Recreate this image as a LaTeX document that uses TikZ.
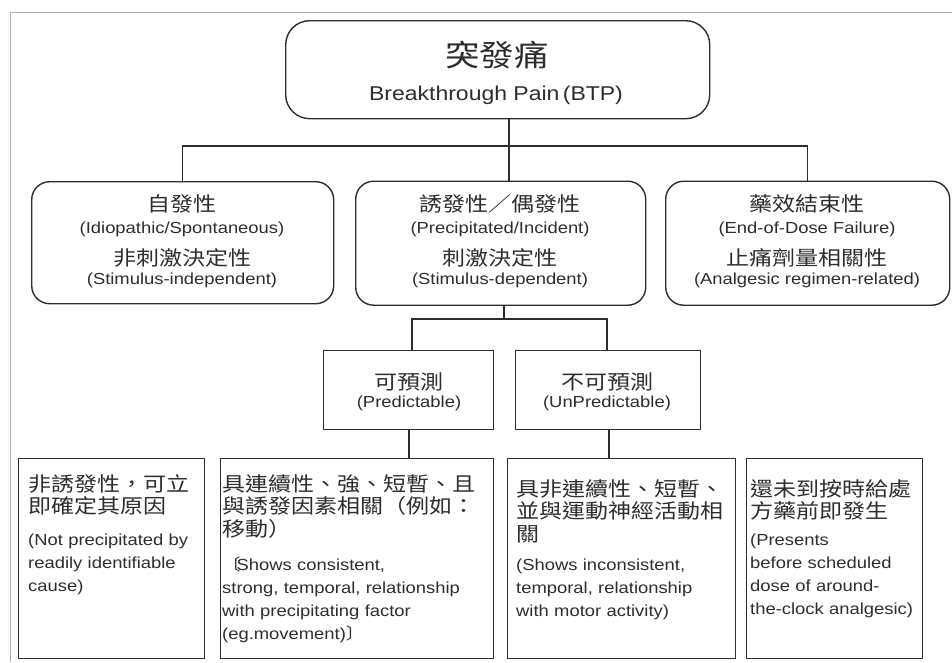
\documentclass[tikz,border=0pt]{standalone}
\usepackage{fontspec}
\setmainfont{Liberation Sans}[FakeStretch=1.15]
\newfontfamily\cjk{Noto Sans CJK TC}[FakeStretch=1.15]
\newcommand{\mylbk}{{\cjk 〔}}
\newcommand{\myrbk}{{\cjk 〕}}
\definecolor{ink}{RGB}{45,45,45}
\definecolor{frame}{RGB}{175,175,175}
\tikzset{
  ln/.style={draw=ink, line width=1.4pt},
  rbox/.style={draw=ink, line width=1.4pt, rounded corners=18pt, anchor=north west, inner sep=0pt},
  sbox/.style={draw=ink, line width=1.4pt, anchor=north west, inner sep=0pt},
  zh/.style={font=\cjk\fontsize{20}{22.5}\selectfont, text=ink, inner sep=0pt, anchor=base},
  zhbig/.style={font=\cjk\fontsize{30}{32}\selectfont, text=ink, inner sep=0pt, anchor=base},
  en/.style={font=\fontsize{16}{23}\selectfont, text=ink, inner sep=0pt, anchor=base},
  enbig/.style={font=\fontsize{20}{24}\selectfont, text=ink, inner sep=0pt, anchor=base},
  zhblk/.style={zh, anchor=base west, text width=320pt, align=left},
  enblk/.style={en, anchor=base west, text width=320pt, align=left},
}
\begin{document}
\begin{tikzpicture}[x=1pt,y=-1pt]
\useasboundingbox (0,0) rectangle (952,662);
% faint scan frame
\draw[frame, line width=0.8pt] (10.5,662) -- (10.5,12.5) -- (952,12.5);

% boxes
\node[rbox, rounded corners=24pt, minimum width=424pt, minimum height=98pt] (top) at (285,20) {};
\node[rbox, minimum width=302pt, minimum height=122pt] (L) at (31,181) {};
\node[rbox, minimum width=290pt, minimum height=124pt] (M) at (355,180.5) {};
\node[rbox, minimum width=284pt, minimum height=124pt] (R) at (665,180.5) {};
\node[sbox, minimum width=170pt, minimum height=79pt] (P) at (323,350) {};
\node[sbox, minimum width=185pt, minimum height=79pt] (U) at (515,350) {};
\node[sbox, minimum width=186pt, minimum height=200pt] (B1) at (18,458) {};
\node[sbox, minimum width=273pt, minimum height=200pt] (B2) at (220,458) {};
\node[sbox, minimum width=228pt, minimum height=200pt] (B3) at (507,458) {};
\node[sbox, minimum width=176pt, minimum height=200pt] (B4) at (746,458) {};

% junction coordinates
\coordinate (j1) at (509,146);
\coordinate (j2) at (504,319);
\coordinate (pL) at (412,319);
\coordinate (pR) at (607,319);

% connectors
\draw[ln] (top.south -| j1) -- (M.north -| j1);
\draw[ln] (L.north) -- (L.north |- j1) -- (R.north |- j1) -- (R.north);
\draw[ln] (M.south -| j2) -- (j2);
\draw[ln] (P.north -| pL) -- (pL) -- (pR) -- (U.north -| pR);
\draw[ln] (P.south -| 409,0) -- (B2.north -| 409,0);
\draw[ln] (U.south -| 609,0) -- (B3.north -| 609,0);

% top texts
\node[zhbig] (t1) at (497,66.5) {突發痛};
\node[enbig] (t2) at (496,100) {Breakthrough Pain\,(BTP)};

% level 2 texts
\node[zh] (l1) at (182,211) {自發性};
\node[en] (l2) at (182,233) {(Idiopathic/Spontaneous)};
\node[zh] (l3) at (182,265) {非刺激決定性};
\node[en] (l4) at (182,284.5) {(Stimulus-independent)};

\node[zh] (m1) at (500,211) {誘發性／偶發性};
\node[en] (m2) at (500,233) {(Precipitated/Incident)};
\node[zh] (m3) at (500,265) {刺激決定性};
\node[en] (m4) at (500,284.5) {(Stimulus-dependent)};

\node[zh] (r1) at (807,211) {藥效結束性};
\node[en] (r2) at (807,233) {(End-of-Dose Failure)};
\node[zh] (r3) at (807,265) {止痛劑量相關性};
\node[en] (r4) at (807,284.5) {(Analgesic regimen-related)};

% level 3 texts
\node[zh] (p1) at (409,389) {可預測};
\node[en] (p2) at (409,407) {(Predictable)};
\node[zh] (u1) at (607,389) {不可預測};
\node[en] (u2) at (607,407) {(UnPredictable)};

% bottom texts
\node[zhblk] (b1z) at (28,491) {非誘發性，可立\\即確定其原因};
\node[enblk] (b1e) at (28,545.5) {(Not precipitated by\\readily identifiable\\cause)};

\node[zhblk] (b2z) at (222,491) {具連續性、強、短暫、且\\與誘發因素相關（例如：\\移動）};
\node[enblk] (b2e) at (222,570) {\mylbk\hspace{-4pt}Shows consistent,\\strong, temporal, relationship\\with precipitating factor\\(eg.movement)\myrbk};

\node[zhblk] (b3z) at (516,496) {具非連續性、短暫、\\並與運動神經活動相\\關};
\node[enblk] (b3e) at (516,570) {(Shows inconsistent,\\temporal, relationship\\with motor activity)};

\node[zhblk] (b4z) at (750,496) {還未到按時給處\\方藥前即發生};
\node[enblk] (b4e) at (750,545.5) {(Presents\\before scheduled\\dose of around-\\the-clock analgesic)};
\end{tikzpicture}
\end{document}
